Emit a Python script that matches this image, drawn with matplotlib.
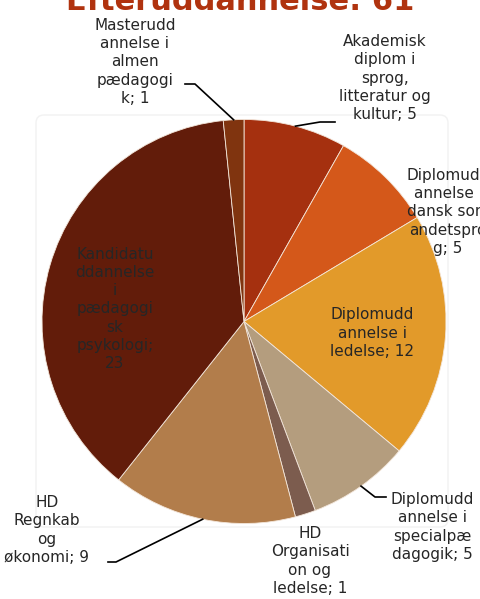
import numpy as np
import matplotlib.pyplot as plt
from matplotlib.patches import FancyBboxPatch

# data
labels = ["Akademisk\ndiplom i\nsprog,\nlitteratur og\nkultur; 5",
          "Diplomudd\nannelse i\ndansk som\nandetspro\ng; 5",
          "Diplomudd\nannelse i\nledelse; 12",
          "Diplomudd\nannelse i\nspecialpæ\ndagogik; 5",
          "HD\nOrganisati\non og\nledelse; 1",
          "HD\nRegnkab\nog\nøkonomi; 9",
          "Kandidatu\nddannelse\ni\npædagogi\nsk\npsykologi;\n23",
          "Masterudd\nannelse i\nalmen\npædagogi\nk; 1"]
values = [5, 5, 12, 5, 1, 9, 23, 1]
colors = ["#A5300F", "#D4581A", "#E29A2A", "#B49D7E",
          "#7C5C4E", "#B27D4B", "#621C0A", "#80340F"]
title = "Efteruddannelse: %d" % sum(values)

# label positions (pixels) and leader elbows
label_pos = [(385, 78), (448, 212), (372, 333), (432, 527),
             (310, 561), (47, 530), (115, 309), (135, 62)]
leaders = {0: [(320, 122), (335, 122)],
           3: [(375, 497), (386, 497)],
           5: [(116, 562), (108, 562)],
           7: [(195, 84), (185, 84)]}

fig = plt.figure(figsize=(4.8, 5.99), dpi=100)
ax = fig.add_axes([0, 0, 1, 1])

cx, cy, r = 244, 321.5, 202

bg = FancyBboxPatch((36, 115), 412, 412, boxstyle="round,pad=0,rounding_size=8",
                    fc="white", ec="#F2F2F2", lw=1)
ax.add_patch(bg)

# y axis is inverted below, so counterclock=True shows clockwise from the top
wedges, _ = ax.pie(values, colors=colors, startangle=-90, counterclock=True,
                   center=(cx, cy), radius=r,
                   wedgeprops=dict(edgecolor="#F3E6DA", linewidth=0.6))

for i, w in enumerate(wedges):
    mid = np.deg2rad((w.theta1 + w.theta2) / 2)
    ex = cx + r * np.cos(mid)
    ey = cy + r * np.sin(mid)
    if i in leaders:
        pts = [(ex, ey)] + leaders[i]
        ax.plot([p[0] for p in pts], [p[1] for p in pts], color="black", lw=1.2)
    tx, ty = label_pos[i]
    ax.text(tx, ty, labels[i], ha="center", va="center", fontsize=11,
            linespacing=1.27, color="#262626")

ax.text(240, 10, title, ha="center", va="baseline", fontsize=22,
        fontweight="bold", color="#B0330F")

ax.set_xlim(0, 480)
ax.set_ylim(599, 0)
ax.set_aspect("equal")
ax.axis("off")

fig.savefig("out.png", dpi=100)
